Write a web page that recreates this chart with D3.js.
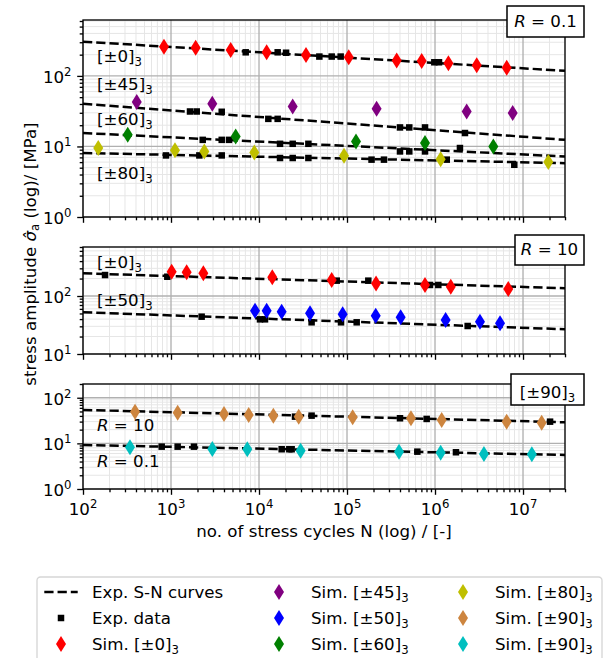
<!DOCTYPE html>
<html>
<head>
<meta charset='utf-8'>
<title>S-N curves</title>
<script src='https://cdn.jsdelivr.net/npm/d3@7/dist/d3.min.js'></script>
<style>
  body { margin: 0; background: #fff; }
  text { font-family: 'DejaVu Sans', sans-serif; }
</style>
</head>
<body>
<svg width='606' height='658'></svg>
<script>
// ---- data ----
const nDomain = [1e2, 3e7]
const snN = [1e2, 3e7]          // S-N curves are straight lines in log-log, given by their end points

// R = 0.1
const sn0_R01 = [306, 118]
const sn45_R01 = [40.2, 12.4]
const sn60_R01 = [15.5, 7.2]
const sn80_R01 = [8.07, 5.8]
const exp0_R01_N = [7060, 16300, 20300, 48500, 67000, 84700, 982000, 1110000]
const exp0_R01_S = [216, 216, 213, 188, 188, 188, 156, 156]
const sim0_R01_N = [832, 1906, 4766, 12220, 34200, 104500, 367000, 706000, 1420000, 2980000, 6530000]
const sim0_R01_S = [260, 251, 233, 216, 198, 184, 165, 163, 151, 142, 130]
const exp45_R01_N = [1644, 1960, 3770, 12760, 16300, 400000, 510000, 770000, 2190000]
const exp45_R01_S = [31.3, 31.3, 31, 24.6, 24.6, 18.6, 18.6, 18.6, 15.5]
const sim45_R01_N = [408, 2946, 24150, 217000, 2290000, 7630000]
const sim45_R01_S = [42.5, 40.2, 36.8, 34.2, 31.3, 29.7]
const exp60_R01_N = [2293, 3770, 4560, 17330, 24150, 36400, 400000, 510000, 770000, 1920000]
const exp60_R01_S = [12.4, 12.4, 12.4, 10.9, 10.9, 10.9, 8.5, 8.5, 8.5, 9.5]
const sim60_R01_N = [322, 5430, 126500, 770000, 4600000]
const sim60_R01_S = [14.6, 13.8, 11.8, 11.2, 10.0]
const exp80_R01_N = [877, 2100, 3770, 17330, 24150, 36400, 190000, 263000, 1360000, 7960000]
const exp80_R01_S = [7.46, 7.46, 7.46, 6.86, 6.86, 6.86, 6.5, 6.5, 6.5, 5.5]
const sim80_R01_N = [149, 1110, 2390, 8850, 92500, 1160000, 19400000]
const sim80_R01_S = [9.5, 8.8, 8.5, 8.2, 7.4, 6.6, 6.0]

// R = 10
const sn0_R10 = [246, 136]
const sn50_R10 = [52.4, 26.7]
const exp0_R10_N = [178, 908, 76400, 174600, 877000, 1090000]
const exp0_R10_S = [230, 215, 184, 184, 155, 155]
const sim0_R10_N = [1018, 1507, 2330, 14160, 67000, 213800, 770000, 1510000, 6800000]
const sim0_R10_S = [262, 256, 246, 210, 189, 165, 155, 145, 132]
const exp50_R10_N = [2230, 10260, 11700, 39600, 85500, 128800, 2350000]
const exp50_R10_S = [44, 39.6, 39.6, 35.2, 35.2, 35.2, 30.4]
const sim50_R10_N = [9010, 12220, 18100, 38000, 89300, 212000, 407000, 1320000, 3240000, 5480000]
const sim50_R10_S = [55.8, 55.8, 53.6, 50.3, 48.3, 45.7, 42.9, 38.5, 36.1, 33.8]

// [±90]3, both R
const sn90_R10 = [54, 29]
const sn90_R01 = [9.2, 5.57]
const exp90_R10_N = [25650, 39600, 400000, 804000, 20300000]
const exp90_R10_S = [38.5, 40.5, 35.5, 34.3, 29.9]
const sim90_R10_N = [390, 1190, 4000, 7640, 14550, 28250, 115900, 533000, 1190000, 6520000, 16300000]
const sim90_R10_S = [49.5, 47.1, 44.1, 42, 40.5, 38.5, 37.4, 35.5, 32.6, 29.9, 28.4]
const exp90_R01_N = [784, 1190, 1824, 18100, 22100, 23500, 630000, 1730000]
const exp90_R01_S = [8.47, 8.47, 8.47, 7.43, 7.43, 7.43, 6.58, 6.38]
const sim90_R01_N = [342, 2946, 7360, 29700, 390000, 1160000, 3600000, 12600000]
const sim90_R01_S = [8.2, 7.54, 7.43, 6.92, 6.58, 6.25, 5.86, 5.77]

const xTickExps = ['2', '3', '4', '5', '6', '7']

const colors = { c0: '#ff0000', c45: '#800080', c50: '#0000ff', c60: '#008000', c80: '#bfbf00', c90a: '#cd853f', c90b: '#00bfbf' }

// ---- layout ----
const svg = d3.select('svg')
const fs = 16.67
const left = 83, right = 565
const x = d3.scaleLog().domain(nDomain).range([left, right])

const panels = [
  { top: 20, bottom: 217, domain: [1, 620] },
  { top: 247, bottom: 354, domain: [10, 700] },
  { top: 384, bottom: 489, domain: [1, 200] }
]
panels.forEach(p => { p.y = d3.scaleLog().domain(p.domain).range([p.bottom, p.top]) })

const zip = (a, b) => a.map((v, i) => [v, b[i]])
const diamond = 'M0,-8L5,0L0,8L-5,0Z'

function sub(sel, main, s) {
  sel.append('tspan').text(main)
  sel.append('tspan').attr('font-size', fs * 0.7).attr('dy', 4).text(s)
}
function sup(sel, main, s) {
  sel.append('tspan').text(main)
  sel.append('tspan').attr('font-size', fs * 0.7).attr('dy', -7).text(s)
}

function drawAxes(p, i) {
  const g = svg.append('g')
  const xt = x.ticks()
  const yt = p.y.ticks()
  const isMajor = v => Math.abs(Math.log10(v) - Math.round(Math.log10(v))) < 1e-6
  // minor grid
  g.selectAll('.gxm').data(xt.filter(v => !isMajor(v))).enter().append('line')
    .attr('x1', d => x(d)).attr('x2', d => x(d)).attr('y1', p.top).attr('y2', p.bottom)
    .attr('stroke', '#e6e6e6').attr('stroke-width', 1)
  g.selectAll('.gym').data(yt.filter(v => !isMajor(v))).enter().append('line')
    .attr('y1', d => p.y(d)).attr('y2', d => p.y(d)).attr('x1', left).attr('x2', right)
    .attr('stroke', '#e6e6e6').attr('stroke-width', 1)
  // major grid
  g.selectAll('.gx').data(xt.filter(isMajor)).enter().append('line')
    .attr('x1', d => x(d)).attr('x2', d => x(d)).attr('y1', p.top).attr('y2', p.bottom)
    .attr('stroke', '#b0b0b0').attr('stroke-width', 1.33)
  g.selectAll('.gy').data(yt.filter(isMajor)).enter().append('line')
    .attr('y1', d => p.y(d)).attr('y2', d => p.y(d)).attr('x1', left).attr('x2', right)
    .attr('stroke', '#b0b0b0').attr('stroke-width', 1.33)

  // ticks
  const axB = g.append('g').attr('transform', `translate(0,${p.bottom})`)
  axB.call(d3.axisBottom(x).tickValues(xt.filter(isMajor)).tickSize(5.8).tickFormat(''))
  axB.append('g').call(d3.axisBottom(x).tickValues(xt.filter(v => !isMajor(v))).tickSize(3.3).tickFormat(''))
  const axL = g.append('g').attr('transform', `translate(${left},0)`)
  axL.call(d3.axisLeft(p.y).tickValues(yt.filter(isMajor)).tickSize(5.8).tickFormat(''))
  axL.append('g').call(d3.axisLeft(p.y).tickValues(yt.filter(v => !isMajor(v))).tickSize(3.3).tickFormat(''))
  g.selectAll('.domain').remove()
  g.selectAll('.tick line').attr('stroke', '#000').attr('stroke-width', 1.33)

  // y tick labels
  yt.filter(isMajor).forEach(v => {
    const t = g.append('text').attr('x', 71.5).attr('y', p.y(v) + 7)
      .attr('text-anchor', 'end').attr('font-size', fs)
    sup(t, '10', String(Math.round(Math.log10(v))))
  })
  // x tick labels only on last panel
  if (i === panels.length - 1) {
    xt.filter(isMajor).forEach((v, k) => {
      const t = g.append('text').attr('x', x(v)).attr('y', p.bottom + 26)
        .attr('text-anchor', 'middle').attr('font-size', fs)
      sup(t, '10', xTickExps[k])
    })
  }
}

function spines(p) {
  svg.append('rect').attr('x', left).attr('y', p.top).attr('width', right - left).attr('height', p.bottom - p.top)
    .attr('fill', 'none').attr('stroke', '#000').attr('stroke-width', 1.33)
}

const line = y => d3.line().x(d => x(d[0])).y(d => y(d[1]))

function snCurve(p, s) {
  svg.append('path').datum(zip(snN, s)).attr('d', line(p.y))
    .attr('fill', 'none').attr('stroke', '#000').attr('stroke-width', 2.5).attr('stroke-dasharray', '9.25,4')
}
function expPts(p, N, S) {
  svg.append('g').selectAll('rect').data(zip(N, S)).enter().append('rect')
    .attr('x', d => x(d[0]) - 3.25).attr('y', d => p.y(d[1]) - 3.25)
    .attr('width', 6.5).attr('height', 6.5).attr('fill', '#000')
}
function simPts(p, N, S, c) {
  svg.append('g').selectAll('path').data(zip(N, S)).enter().append('path')
    .attr('d', diamond).attr('transform', d => `translate(${x(d[0])},${p.y(d[1])})`)
    .attr('fill', c)
}

panels.forEach(drawAxes)

const [pA, pB, pC] = panels
// lines
snCurve(pA, sn0_R01); snCurve(pA, sn45_R01); snCurve(pA, sn60_R01); snCurve(pA, sn80_R01)
snCurve(pB, sn0_R10); snCurve(pB, sn50_R10)
snCurve(pC, sn90_R10); snCurve(pC, sn90_R01)
// experimental data
expPts(pA, exp0_R01_N, exp0_R01_S); expPts(pA, exp45_R01_N, exp45_R01_S)
expPts(pA, exp60_R01_N, exp60_R01_S); expPts(pA, exp80_R01_N, exp80_R01_S)
expPts(pB, exp0_R10_N, exp0_R10_S); expPts(pB, exp50_R10_N, exp50_R10_S)
expPts(pC, exp90_R10_N, exp90_R10_S); expPts(pC, exp90_R01_N, exp90_R01_S)
// simulations
simPts(pA, sim0_R01_N, sim0_R01_S, colors.c0)
simPts(pA, sim45_R01_N, sim45_R01_S, colors.c45)
simPts(pA, sim60_R01_N, sim60_R01_S, colors.c60)
simPts(pA, sim80_R01_N, sim80_R01_S, colors.c80)
simPts(pB, sim0_R10_N, sim0_R10_S, colors.c0)
simPts(pB, sim50_R10_N, sim50_R10_S, colors.c50)
simPts(pC, sim90_R10_N, sim90_R10_S, colors.c90a)
simPts(pC, sim90_R01_N, sim90_R01_S, colors.c90b)

panels.forEach(spines)

// in-panel labels
function note(xp, yp, main, s) {
  const t = svg.append('text').attr('x', xp).attr('y', yp).attr('font-size', fs)
  sub(t, main, s)
}
note(97, 62, '[±0]', '3')
note(97, 90, '[±45]', '3')
note(97, 125, '[±60]', '3')
note(97, 179, '[±80]', '3')
note(97, 268, '[±0]', '3')
note(97, 306, '[±50]', '3')

function rNote(xp, yp, val, anchor) {
  const t = svg.append('text').attr('x', xp).attr('y', yp).attr('font-size', fs).attr('text-anchor', anchor || 'start')
  t.append('tspan').attr('font-style', 'italic').text('R')
  t.append('tspan').text(' = ' + val)
  return t
}
rNote(97, 431, '10')
rNote(97, 467, '0.1')

// boxed labels
function box(l, t, r, b) {
  svg.append('rect').attr('x', l).attr('y', t).attr('width', r - l).attr('height', b - t)
    .attr('fill', '#fff').attr('stroke', '#000').attr('stroke-width', 1.5)
}
box(507, 6, 584, 37)
rNote(545.5, 27, '0.1', 'middle')
box(515, 235, 584, 265)
rNote(549.5, 255, '10', 'middle')
box(511, 374, 584, 405)
const t90 = svg.append('text').attr('x', 547.5).attr('y', 398).attr('font-size', fs).attr('text-anchor', 'middle')
sub(t90, '[±90]', '3')

// axis labels
svg.append('text').attr('x', (left + right) / 2).attr('y', 537).attr('text-anchor', 'middle')
  .attr('font-size', fs).text('no. of stress cycles N (log) / [-]')
const yl = svg.append('text').attr('transform', 'translate(36,254) rotate(-90)')
  .attr('text-anchor', 'middle').attr('font-size', fs)
yl.append('tspan').text('stress amplitude ')
yl.append('tspan').attr('font-style', 'italic').text('σ\u0302')
yl.append('tspan').attr('font-size', fs * 0.7).attr('dy', 3).text('a')
yl.append('tspan').attr('dy', -3).text(' (log)/ [MPa]')

// legend
const lg = svg.append('g')
lg.append('rect').attr('x', 37).attr('y', 577).attr('width', 565).attr('height', 100).attr('rx', 3.5)
  .attr('fill', '#fff').attr('stroke', '#d6d6d6').attr('stroke-width', 1.33)
const rows = [592, 618, 644]
const colHandle = [61, 279, 463]
const colText = [92, 311, 495]
const legendItems = [
  { kind: 'line', label: 'Exp. S-N curves' },
  { kind: 'square', label: 'Exp. data' },
  { kind: 'diamond', c: colors.c0, label: 'Sim. [±0]', s: '3' },
  { kind: 'diamond', c: colors.c45, label: 'Sim. [±45]', s: '3' },
  { kind: 'diamond', c: colors.c50, label: 'Sim. [±50]', s: '3' },
  { kind: 'diamond', c: colors.c60, label: 'Sim. [±60]', s: '3' },
  { kind: 'diamond', c: colors.c80, label: 'Sim. [±80]', s: '3' },
  { kind: 'diamond', c: colors.c90a, label: 'Sim. [±90]', s: '3' },
  { kind: 'diamond', c: colors.c90b, label: 'Sim. [±90]', s: '3' }
]
legendItems.forEach((it, i) => {
  const col = Math.floor(i / 3), row = i % 3
  const cx = colHandle[col], cy = rows[row]
  if (it.kind === 'line') {
    lg.append('line').attr('x1', cx - 16.7).attr('x2', cx + 16.7).attr('y1', cy).attr('y2', cy)
      .attr('stroke', '#000').attr('stroke-width', 2.5).attr('stroke-dasharray', '9.25,4')
  } else if (it.kind === 'square') {
    lg.append('rect').attr('x', cx - 3.25).attr('y', cy - 3.25).attr('width', 6.5).attr('height', 6.5).attr('fill', '#000')
  } else {
    lg.append('path').attr('d', diamond).attr('transform', `translate(${cx},${cy})`).attr('fill', it.c)
  }
  const t = lg.append('text').attr('x', colText[col]).attr('y', cy + 6).attr('font-size', fs)
  if (it.s) sub(t, it.label, it.s)
  else t.text(it.label)
})
</script>
</body>
</html>
